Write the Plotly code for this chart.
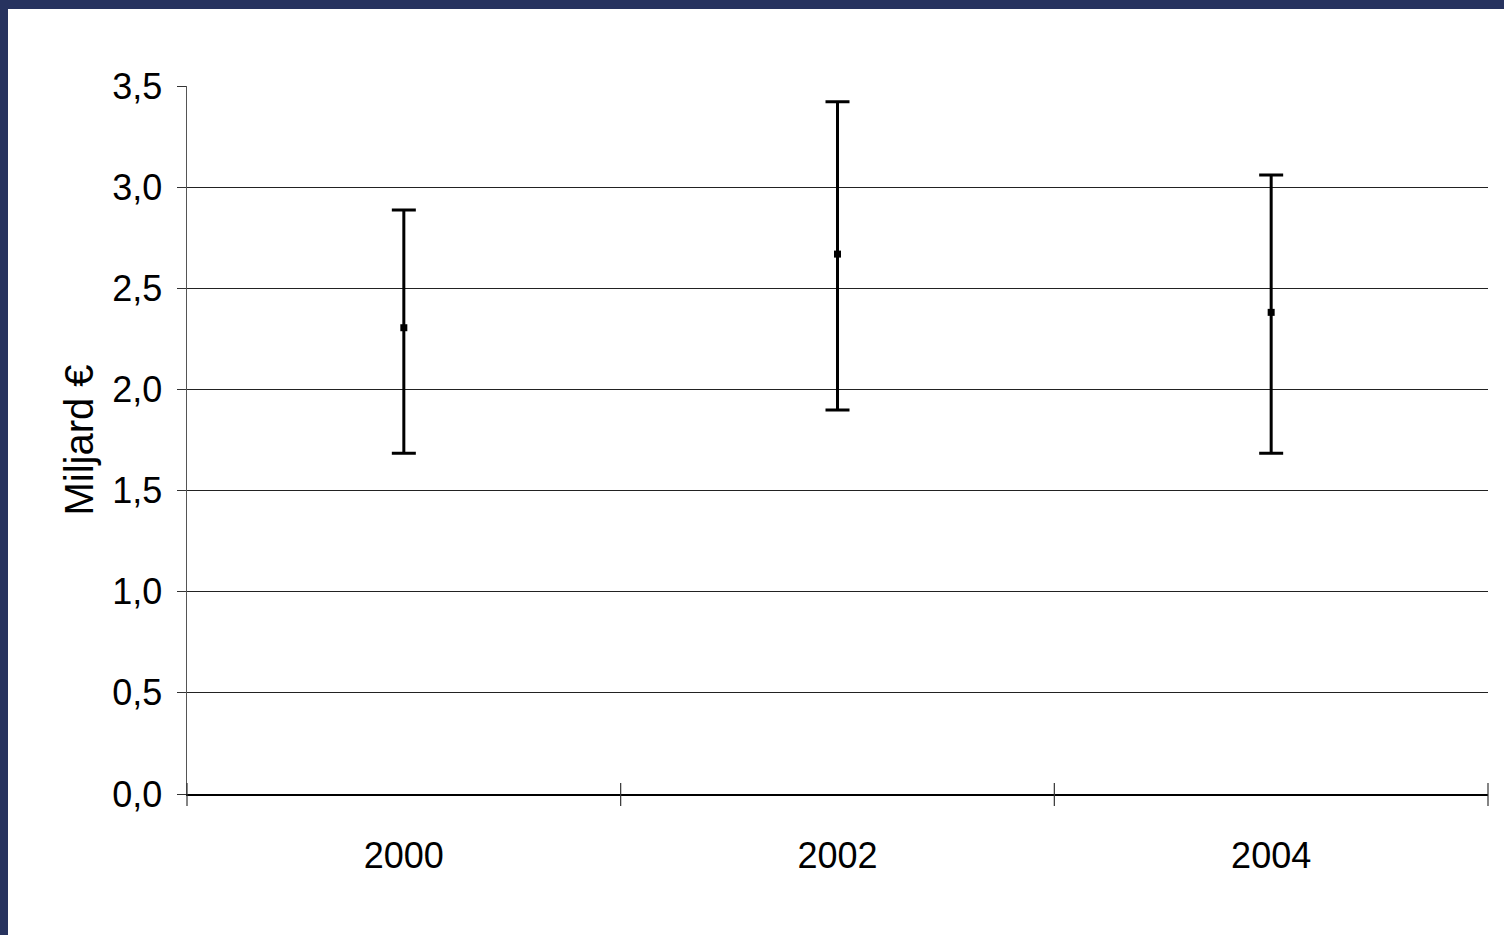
import plotly.graph_objects as go

# ---- data ----
years = ["2000", "2002", "2004"]
mean_values = [2.305, 2.669, 2.381]
upper_values = [2.887, 3.422, 3.060]
lower_values = [1.684, 1.898, 1.684]
y_ticks = [0.0, 0.5, 1.0, 1.5, 2.0, 2.5, 3.0, 3.5]

x_pos = list(range(len(years)))
x_range = [-0.5, len(years) - 0.5]
err_plus = [u - m for u, m in zip(upper_values, mean_values)]
err_minus = [m - l for m, l in zip(mean_values, lower_values)]
boundaries = [i - 0.5 for i in range(len(years) + 1)]

FONT = "Liberation Sans, Arial, sans-serif"

fig = go.Figure()
fig.add_trace(go.Scatter(
    x=x_pos, y=mean_values, mode="markers",
    marker=dict(symbol="square", size=7, color="black"),
    error_y=dict(type="data", symmetric=False, array=err_plus, arrayminus=err_minus,
                 color="black", thickness=3, width=12),
    showlegend=False, hoverinfo="skip",
))

shapes = [
    # white slide panel
    dict(type="rect", xref="paper", yref="paper", layer="below",
         x0=-179 / 1301, x1=1.05, y0=-0.3, y1=1 + 77 / 708,
         fillcolor="white", line=dict(width=0)),
]
# crossing category tick marks on the x axis
for b in boundaries:
    px = (b - x_range[0]) / (x_range[1] - x_range[0])
    shapes.append(dict(type="line", xref="paper", yref="paper", x0=px, x1=px,
                       ysizemode="pixel", yanchor=0, y0=-12, y1=11,
                       line=dict(color="#333333", width=1.2)))

fig.update_layout(
    width=1504, height=935,
    margin=dict(l=187, r=16, t=86, b=141),
    paper_bgcolor="#27335f",
    plot_bgcolor="rgba(0,0,0,0)",
    separators=", ",
    shapes=shapes,
    xaxis=dict(
        range=x_range, tickvals=x_pos, ticktext=years, ticks="",
        showgrid=False, zeroline=False, showline=True, linecolor="black", linewidth=1.5,
        tickfont=dict(family=FONT, size=36, color="black"),
        ticklabelstandoff=29, fixedrange=True,
    ),
    yaxis=dict(
        range=[0, 3.5], tickvals=y_ticks, tickformat=".1f",
        ticks="outside", ticklen=9, tickcolor="#333333", tickwidth=1,
        showgrid=True, gridcolor="#222222", gridwidth=1,
        zeroline=False, showline=True, linecolor="#555555", linewidth=1.5,
        tickfont=dict(family=FONT, size=36, color="black"),
        ticklabelstandoff=7,
        title=dict(text="Miljard €", font=dict(family=FONT, size=40, color="black"),
                   standoff=6),
        fixedrange=True,
    ),
)

fig.write_html(
    "out.html",
    config={"displayModeBar": False, "staticPlot": True},
    post_script="document.body.style.margin='0';document.body.style.overflow='hidden';"
                "document.body.style.background='#27335f';",
)
